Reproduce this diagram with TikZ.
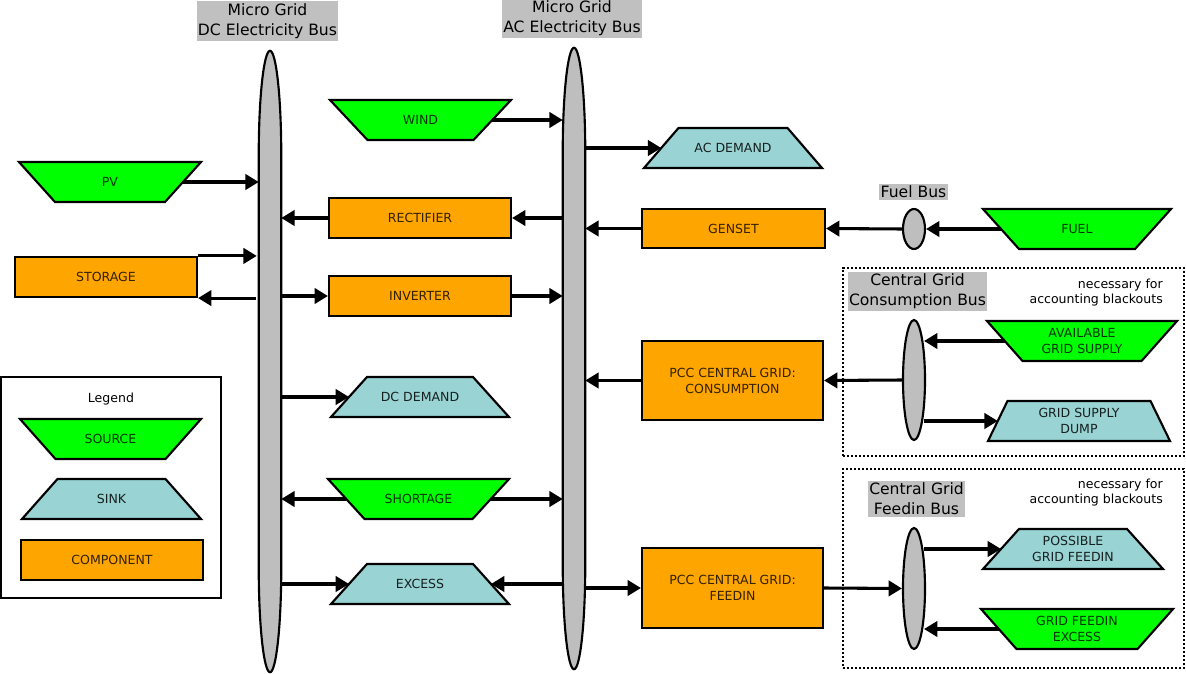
\documentclass[tikz,border=0pt]{standalone}
\usepackage{fontspec}
\setmainfont{DejaVu Sans}
\usetikzlibrary{arrows.meta,calc,shapes.geometric}

\definecolor{srcfill}{RGB}{0,255,0}
\definecolor{snkfill}{RGB}{153,211,211}
\definecolor{cmpfill}{RGB}{255,165,0}
\definecolor{busgray}{RGB}{190,190,190}
\definecolor{lblgray}{RGB}{192,192,192}

\tikzset{
  txt/.style={font=\fontsize{9.4}{12}\selectfont, align=center, inner sep=0pt},
  srcshape/.style={fill=srcfill, draw=black, line width=1.6pt},
  snkshape/.style={fill=snkfill, draw=black, line width=1.6pt},
  comp/.style={rectangle, fill=cmpfill, draw=black, line width=1.6pt,
    minimum width=136.5pt, minimum height=30pt, inner sep=0pt,
    font=\fontsize{9.4}{12}\selectfont, align=center, text=black!80!cmpfill},
  buslabel/.style={fill=lblgray, font=\fontsize{11.7}{15}\selectfont, align=center,
    inner xsep=1pt, inner ysep=1.5pt},
  busnode/.style={rectangle, inner sep=0pt, minimum width=16.5pt, minimum height=465.75pt},
  smallbus/.style={ellipse, fill=busgray, draw=black, line width=1.6pt,
    minimum width=16.5pt, inner sep=0pt},
  busdraw/.style={fill=busgray, draw=black, line width=1.6pt},
  arr/.style={-{Triangle[length=10pt,width=11.5pt]}, line width=2.3pt},
  grpbox/.style={rectangle, draw=black, line width=1.6pt, dash pattern=on 1.6pt off 1.4pt, inner sep=0pt},
  notetxt/.style={font=\fontsize{9.4}{11.3}\selectfont, align=right, inner sep=0pt, anchor=east},
}

% #1 name, #2 cx, #3 cy, #4 half top width, #5 half bottom width, #6 shape style, #7 text colour, #8 text
\newcommand\trapnode[8]{%
  \path[#6] (#2-#4,#3-20) -- (#2+#4,#3-20) -- (#2+#5,#3+20) -- (#2-#5,#3+20) -- cycle;
  \node[txt,text=#7] (#1) at (#2,#3) {#8};
  \coordinate (#1-e) at ({#2+(#4+#5)/2},#3);
  \coordinate (#1-w) at ({#2-(#4+#5)/2},#3);
}

\newcommand\busrod[1]{%
  \draw[busdraw] (#1.north) .. controls ($(#1.north)+(6,0)$) and ($(#1.north east)+(0,45)$) .. ($(#1.north east)+(0,105)$)
    -- ($(#1.south east)+(0,-105)$) .. controls ($(#1.south east)+(0,-45)$) and ($(#1.south)+(6,0)$) .. (#1.south)
    .. controls ($(#1.south)+(-6,0)$) and ($(#1.south west)+(0,-45)$) .. ($(#1.south west)+(0,-105)$)
    -- ($(#1.north west)+(0,105)$) .. controls ($(#1.north west)+(0,45)$) and ($(#1.north)+(-6,0)$) .. (#1.north) -- cycle;
}

\begin{document}
\begin{tikzpicture}[x=0.75pt,y=-0.75pt]
\useasboundingbox (0,0) rectangle (1186,674);

% group boxes and legend frame
\node[grpbox, minimum width=255.75pt, minimum height=141pt] (grp1) at (1013.5,362) {};
\node[grpbox, minimum width=255.75pt, minimum height=149.25pt] (grp2) at (1013.5,568.5) {};
\node[rectangle, draw=black, line width=1.6pt, minimum width=165pt, minimum height=165.75pt, inner sep=0pt] (legend) at (111,487.5) {};

% buses
\node[busnode] (dcbus) at (270,361.5) {};
\node[busnode] (acbus) at (574,358.5) {};
\busrod{dcbus}
\busrod{acbus}
\node[smallbus, minimum height=30pt] (fuelbus) at (914,229) {};
\node[smallbus, minimum height=90pt] (conbus) at (914,380) {};
\node[smallbus, minimum height=90.75pt] (feedbus) at (914,588.5) {};

% bus labels
\node[buslabel] (dclabel) at (267.5,21) {Micro Grid\\DC Electricity Bus};
\node[buslabel] (aclabel) at (572,18.5) {Micro Grid\\AC Electricity Bus};
\node[buslabel] (fuellabel) at (913.5,192) {Fuel Bus};
\node[buslabel] (conlabel) at (917.5,291.5) {Central Grid\\Consumption Bus};
\node[buslabel] (feedlabel) at (916.5,499) {Central Grid\\Feedin Bus};

% notes
\node[notetxt] (note1) at (1163,293) {necessary for\\accounting blackouts};
\node[notetxt] (note2) at (1163,493) {necessary for\\accounting blackouts};

% sources
\trapnode{wind}{420.5}{120}{90.5}{53}{srcshape}{black!80!srcfill}{WIND}
\trapnode{pv}{110}{182}{91}{55}{srcshape}{black!80!srcfill}{PV}
\trapnode{fuel}{1077}{229}{94}{58}{srcshape}{black!80!srcfill}{FUEL}
\trapnode{avail}{1082}{341}{95}{59.5}{srcshape}{black!80!srcfill}{AVAILABLE\\GRID SUPPLY}
\trapnode{gfexcess}{1077}{629}{96}{60.5}{srcshape}{black!80!srcfill}{GRID FEEDIN\\EXCESS}
\trapnode{shortage}{418.5}{499}{90.5}{54}{srcshape}{black!80!srcfill}{SHORTAGE}
\trapnode{lsource}{110.5}{439}{90.5}{55}{srcshape}{black!80!srcfill}{SOURCE}

% sinks
\trapnode{acdemand}{733}{148}{54.5}{89}{snkshape}{black!85!snkfill}{AC DEMAND}
\trapnode{dcdemand}{420}{397}{53}{89}{snkshape}{black!85!snkfill}{DC DEMAND}
\trapnode{gsdump}{1079}{421}{71.5}{91}{snkshape}{black!85!snkfill}{GRID SUPPLY\\DUMP}
\trapnode{possible}{1073}{549}{54}{90}{snkshape}{black!85!snkfill}{POSSIBLE\\GRID FEEDIN}
\trapnode{excess}{420}{584}{53}{89}{snkshape}{black!85!snkfill}{EXCESS}
\trapnode{lsink}{111.5}{499}{54}{89.5}{snkshape}{black!85!snkfill}{SINK}

% components
\node[comp] (rectifier) at (420,218) {RECTIFIER};
\node[comp, minimum width=137.25pt, minimum height=29.25pt] (genset) at (733.5,228.5) {GENSET};
\node[comp] (storage) at (106,277) {STORAGE};
\node[comp] (inverter) at (420,296) {INVERTER};
\node[comp, minimum width=135.75pt, minimum height=59.25pt] (pcccons) at (732.5,380.5) {PCC CENTRAL GRID:\\CONSUMPTION};
\node[comp, minimum width=135.75pt, minimum height=60pt] (pccfeed) at (732.5,588) {PCC CENTRAL GRID:\\FEEDIN};
\node[comp] (lcomp) at (112,560) {COMPONENT};

\node[txt] (legendtitle) at (111,399) {Legend};

% connectors
\draw[arr] (wind-e) -- (wind-e -| acbus.west);
\draw[arr] (acbus.east |- acdemand-w) -- (acdemand-w);
\draw[arr] (pv-e) -- (pv-e -| dcbus.west);
\draw[arr] (acbus.west |- rectifier.east) -- (rectifier.east);
\draw[arr] (rectifier.west) -- (rectifier.west -| dcbus.east);
\draw[arr] (genset.west) -- (genset.west -| acbus.east);
\draw[arr] (fuel-w) -- (fuel-w -| fuelbus.east);
\draw[arr] (fuelbus.west) -- (genset.east);
\draw[arr] (storage.north east) -- ($(storage.north east -| dcbus.west)+(-2,0)$);
\draw[arr] ($(dcbus.west |- storage.south east)+(-3,0)$) -- (storage.south east);
\draw[arr] (dcbus.east |- inverter.west) -- (inverter.west);
\draw[arr] (inverter.east) -- (inverter.east -| acbus.west);
\draw[arr] (pcccons.west) -- (pcccons.west -| acbus.east);
\draw[arr] (conbus.west) -- (pcccons.east);
\draw[arr] (avail-w) -- ($(avail-w -| conbus.east)+(-2,0)$);
\draw[arr] ($(conbus.east |- gsdump-w)+(-2,0)$) -- (gsdump-w);
\draw[arr] (dcbus.east |- dcdemand-w) -- (dcdemand-w);
\draw[arr] (shortage-w) -- (shortage-w -| dcbus.east);
\draw[arr] (shortage-e) -- (shortage-e -| acbus.west);
\draw[arr] (dcbus.east |- excess-w) -- (excess-w);
\draw[arr] (acbus.west |- excess-e) -- (excess-e);
\draw[arr] (acbus.east |- pccfeed.west) -- (pccfeed.west);
\draw[arr] (pccfeed.east) -- (feedbus.west);
\draw[arr] ($(feedbus.east |- possible-w)+(-2,0)$) -- (possible-w);
\draw[arr] (gfexcess-w) -- ($(gfexcess-w -| feedbus.east)+(-2,0)$);
\end{tikzpicture}
\end{document}
